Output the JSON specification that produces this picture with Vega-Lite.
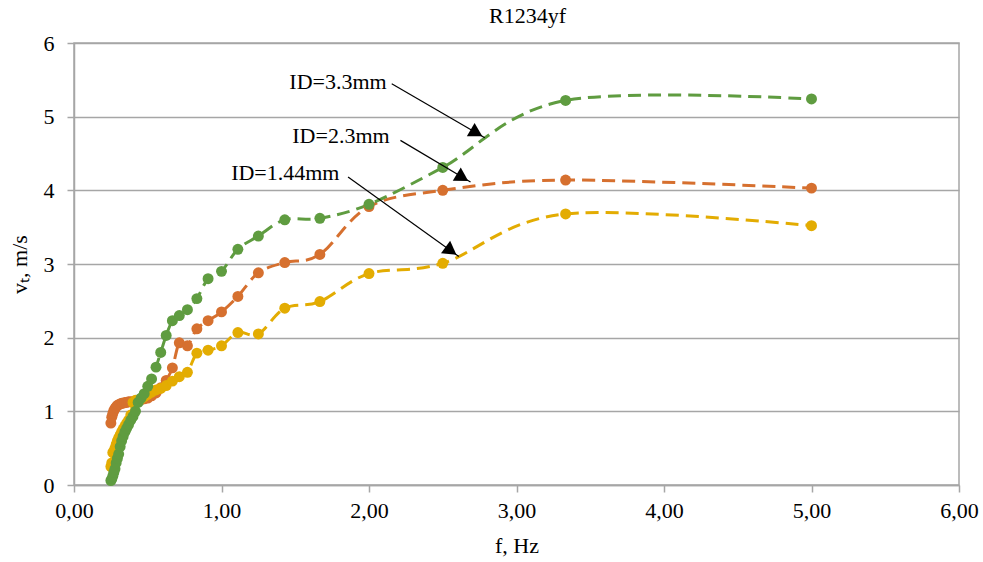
{
  "$schema": "https://vega.github.io/schema/vega-lite/v6.json",
  "width": 885,
  "height": 442,
  "autosize": {"type": "none"},
  "padding": {"left": 74, "top": 43, "right": 24, "bottom": 77},
  "background": "white",
  "title": {"text": "R1234yf", "font": "Liberation Serif", "fontSize": 22, "fontWeight": "normal", "color": "black", "offset": 4, "dx": 11},
  "config": {
    "font": "Liberation Serif",
    "view": {"stroke": "#a6a6a6", "strokeWidth": 1.5},
    "axis": {"labelFont": "Liberation Serif", "titleFont": "Liberation Serif", "labelColor": "black", "titleColor": "black", "titleFontWeight": "normal", "labelFontSize": 22, "titleFontSize": 22, "domainColor": "#a6a6a6", "tickColor": "#a6a6a6", "domainWidth": 1.5, "tickWidth": 1.5, "tickSize": 7}
  },
  "datasets": {
    "series": [
      {"s": "ID=2.3mm", "f": 0.25, "v": 0.84}, {"s": "ID=2.3mm", "f": 0.256, "v": 0.92}, {"s": "ID=2.3mm", "f": 0.263, "v": 0.97}, {"s": "ID=2.3mm", "f": 0.27, "v": 1.01}, {"s": "ID=2.3mm", "f": 0.278, "v": 1.04}, {"s": "ID=2.3mm", "f": 0.286, "v": 1.06}, {"s": "ID=2.3mm", "f": 0.294, "v": 1.08}, {"s": "ID=2.3mm", "f": 0.303, "v": 1.09}, {"s": "ID=2.3mm", "f": 0.313, "v": 1.1}, {"s": "ID=2.3mm", "f": 0.323, "v": 1.11}, {"s": "ID=2.3mm", "f": 0.333, "v": 1.11}, {"s": "ID=2.3mm", "f": 0.345, "v": 1.12}, {"s": "ID=2.3mm", "f": 0.357, "v": 1.12}, {"s": "ID=2.3mm", "f": 0.37, "v": 1.13}, {"s": "ID=2.3mm", "f": 0.385, "v": 1.13}, {"s": "ID=2.3mm", "f": 0.4, "v": 1.13}, {"s": "ID=2.3mm", "f": 0.417, "v": 1.14}, {"s": "ID=2.3mm", "f": 0.435, "v": 1.15}, {"s": "ID=2.3mm", "f": 0.455, "v": 1.16}, {"s": "ID=2.3mm", "f": 0.476, "v": 1.17}, {"s": "ID=2.3mm", "f": 0.5, "v": 1.18}, {"s": "ID=2.3mm", "f": 0.526, "v": 1.21}, {"s": "ID=2.3mm", "f": 0.556, "v": 1.25}, {"s": "ID=2.3mm", "f": 0.588, "v": 1.32}, {"s": "ID=2.3mm", "f": 0.625, "v": 1.42}, {"s": "ID=2.3mm", "f": 0.667, "v": 1.59}, {"s": "ID=2.3mm", "f": 0.714, "v": 1.93}, {"s": "ID=2.3mm", "f": 0.769, "v": 1.89}, {"s": "ID=2.3mm", "f": 0.833, "v": 2.12}, {"s": "ID=2.3mm", "f": 0.909, "v": 2.23}, {"s": "ID=2.3mm", "f": 1.0, "v": 2.35}, {"s": "ID=2.3mm", "f": 1.111, "v": 2.56}, {"s": "ID=2.3mm", "f": 1.25, "v": 2.88}, {"s": "ID=2.3mm", "f": 1.429, "v": 3.02}, {"s": "ID=2.3mm", "f": 1.667, "v": 3.13}, {"s": "ID=2.3mm", "f": 2.0, "v": 3.78}, {"s": "ID=2.3mm", "f": 2.5, "v": 4.0}, {"s": "ID=2.3mm", "f": 3.333, "v": 4.14}, {"s": "ID=2.3mm", "f": 5.0, "v": 4.03},
      {"s": "ID=1.44mm", "f": 0.25, "v": 0.25}, {"s": "ID=1.44mm", "f": 0.256, "v": 0.3}, {"s": "ID=1.44mm", "f": 0.263, "v": 0.44}, {"s": "ID=1.44mm", "f": 0.27, "v": 0.46}, {"s": "ID=1.44mm", "f": 0.278, "v": 0.5}, {"s": "ID=1.44mm", "f": 0.286, "v": 0.55}, {"s": "ID=1.44mm", "f": 0.294, "v": 0.6}, {"s": "ID=1.44mm", "f": 0.303, "v": 0.64}, {"s": "ID=1.44mm", "f": 0.313, "v": 0.68}, {"s": "ID=1.44mm", "f": 0.323, "v": 0.72}, {"s": "ID=1.44mm", "f": 0.333, "v": 0.76}, {"s": "ID=1.44mm", "f": 0.345, "v": 0.8}, {"s": "ID=1.44mm", "f": 0.357, "v": 0.84}, {"s": "ID=1.44mm", "f": 0.37, "v": 0.88}, {"s": "ID=1.44mm", "f": 0.385, "v": 0.95}, {"s": "ID=1.44mm", "f": 0.4, "v": 1.12}, {"s": "ID=1.44mm", "f": 0.417, "v": 1.15}, {"s": "ID=1.44mm", "f": 0.435, "v": 1.15}, {"s": "ID=1.44mm", "f": 0.455, "v": 1.17}, {"s": "ID=1.44mm", "f": 0.476, "v": 1.2}, {"s": "ID=1.44mm", "f": 0.5, "v": 1.23}, {"s": "ID=1.44mm", "f": 0.526, "v": 1.26}, {"s": "ID=1.44mm", "f": 0.556, "v": 1.29}, {"s": "ID=1.44mm", "f": 0.588, "v": 1.31}, {"s": "ID=1.44mm", "f": 0.625, "v": 1.35}, {"s": "ID=1.44mm", "f": 0.667, "v": 1.41}, {"s": "ID=1.44mm", "f": 0.714, "v": 1.47}, {"s": "ID=1.44mm", "f": 0.769, "v": 1.53}, {"s": "ID=1.44mm", "f": 0.833, "v": 1.79}, {"s": "ID=1.44mm", "f": 0.909, "v": 1.83}, {"s": "ID=1.44mm", "f": 1.0, "v": 1.89}, {"s": "ID=1.44mm", "f": 1.111, "v": 2.07}, {"s": "ID=1.44mm", "f": 1.25, "v": 2.05}, {"s": "ID=1.44mm", "f": 1.429, "v": 2.4}, {"s": "ID=1.44mm", "f": 1.667, "v": 2.49}, {"s": "ID=1.44mm", "f": 2.0, "v": 2.87}, {"s": "ID=1.44mm", "f": 2.5, "v": 3.01}, {"s": "ID=1.44mm", "f": 3.333, "v": 3.68}, {"s": "ID=1.44mm", "f": 5.0, "v": 3.52},
      {"s": "ID=3.3mm", "f": 0.25, "v": 0.06}, {"s": "ID=3.3mm", "f": 0.256, "v": 0.08}, {"s": "ID=3.3mm", "f": 0.263, "v": 0.12}, {"s": "ID=3.3mm", "f": 0.27, "v": 0.17}, {"s": "ID=3.3mm", "f": 0.278, "v": 0.22}, {"s": "ID=3.3mm", "f": 0.286, "v": 0.3}, {"s": "ID=3.3mm", "f": 0.294, "v": 0.36}, {"s": "ID=3.3mm", "f": 0.303, "v": 0.42}, {"s": "ID=3.3mm", "f": 0.313, "v": 0.52}, {"s": "ID=3.3mm", "f": 0.323, "v": 0.6}, {"s": "ID=3.3mm", "f": 0.333, "v": 0.66}, {"s": "ID=3.3mm", "f": 0.345, "v": 0.72}, {"s": "ID=3.3mm", "f": 0.357, "v": 0.77}, {"s": "ID=3.3mm", "f": 0.37, "v": 0.82}, {"s": "ID=3.3mm", "f": 0.385, "v": 0.88}, {"s": "ID=3.3mm", "f": 0.4, "v": 0.93}, {"s": "ID=3.3mm", "f": 0.417, "v": 1.0}, {"s": "ID=3.3mm", "f": 0.435, "v": 1.12}, {"s": "ID=3.3mm", "f": 0.455, "v": 1.18}, {"s": "ID=3.3mm", "f": 0.476, "v": 1.24}, {"s": "ID=3.3mm", "f": 0.5, "v": 1.34}, {"s": "ID=3.3mm", "f": 0.526, "v": 1.44}, {"s": "ID=3.3mm", "f": 0.556, "v": 1.6}, {"s": "ID=3.3mm", "f": 0.588, "v": 1.8}, {"s": "ID=3.3mm", "f": 0.625, "v": 2.03}, {"s": "ID=3.3mm", "f": 0.667, "v": 2.23}, {"s": "ID=3.3mm", "f": 0.714, "v": 2.3}, {"s": "ID=3.3mm", "f": 0.769, "v": 2.38}, {"s": "ID=3.3mm", "f": 0.833, "v": 2.53}, {"s": "ID=3.3mm", "f": 0.909, "v": 2.8}, {"s": "ID=3.3mm", "f": 1.0, "v": 2.9}, {"s": "ID=3.3mm", "f": 1.111, "v": 3.2}, {"s": "ID=3.3mm", "f": 1.25, "v": 3.38}, {"s": "ID=3.3mm", "f": 1.429, "v": 3.6}, {"s": "ID=3.3mm", "f": 1.667, "v": 3.62}, {"s": "ID=3.3mm", "f": 2.0, "v": 3.81}, {"s": "ID=3.3mm", "f": 2.5, "v": 4.31}, {"s": "ID=3.3mm", "f": 3.333, "v": 5.22}, {"s": "ID=3.3mm", "f": 5.0, "v": 5.24}
    ],
    "notes": [
      {"s": "ID=3.3mm", "tx": 2.12, "ty": 5.476, "x1": 2.154, "y1": 5.448, "x2": 2.785, "y2": 4.715, "hx": 2.729, "hy": 4.779},
      {"s": "ID=2.3mm", "tx": 2.14, "ty": 4.742, "x1": 2.213, "y1": 4.678, "x2": 2.688, "y2": 4.113, "hx": 2.634, "hy": 4.174},
      {"s": "ID=1.44mm", "tx": 1.8, "ty": 4.239, "x1": 1.858, "y1": 4.181, "x2": 2.609, "y2": 3.102, "hx": 2.556, "hy": 3.178}
    ]
  },
  "layer": [
    {
      "data": {"name": "series"},
      "mark": {"type": "line", "interpolate": "cardinal", "strokeWidth": 3, "strokeDash": [13, 7]},
      "encoding": {
        "x": {"field": "f", "type": "quantitative", "scale": {"domain": [0, 6], "nice": false}, "axis": {"title": "f, Hz", "grid": false, "tickCount": 6, "labelFlush": false, "labelExpr": "replace(format(datum.value, '.2f'), '.', ',')", "labelPadding": 8, "titlePadding": 14}},
        "y": {"field": "v", "type": "quantitative", "scale": {"domain": [0, 6], "nice": false}, "axis": {"title": "vₜ, m/s", "grid": true, "gridColor": "#a6a6a6", "gridWidth": 1.5, "tickCount": 6, "format": "d", "labelFlush": false, "labelPadding": 13, "titlePadding": 12}},
        "color": {"field": "s", "type": "nominal", "scale": {"domain": ["ID=2.3mm", "ID=1.44mm", "ID=3.3mm"], "range": ["#D6702F", "#E3AC02", "#5F9C40"]}, "legend": null}
      }
    },
    {
      "data": {"name": "series"},
      "mark": {"type": "point", "filled": true, "opacity": 1, "size": 120, "shape": "circle"},
      "encoding": {
        "x": {"field": "f", "type": "quantitative"},
        "y": {"field": "v", "type": "quantitative"},
        "color": {"field": "s", "type": "nominal", "legend": null}
      }
    },
    {
      "data": {"name": "notes"},
      "mark": {"type": "rule", "color": "black", "strokeWidth": 1.2},
      "encoding": {
        "x": {"field": "x1", "type": "quantitative"},
        "y": {"field": "y1", "type": "quantitative"},
        "x2": {"field": "x2"},
        "y2": {"field": "y2"}
      }
    },
    {
      "data": {"name": "notes"},
      "transform": [{"filter": "datum.s === 'ID=3.3mm'"}],
      "mark": {"type": "point", "shape": "triangle-up", "filled": true, "color": "black", "opacity": 1, "size": 240, "angle": 120},
      "encoding": {"x": {"field": "hx", "type": "quantitative"}, "y": {"field": "hy", "type": "quantitative"}}
    },
    {
      "data": {"name": "notes"},
      "transform": [{"filter": "datum.s === 'ID=2.3mm'"}],
      "mark": {"type": "point", "shape": "triangle-up", "filled": true, "color": "black", "opacity": 1, "size": 240, "angle": 121},
      "encoding": {"x": {"field": "hx", "type": "quantitative"}, "y": {"field": "hy", "type": "quantitative"}}
    },
    {
      "data": {"name": "notes"},
      "transform": [{"filter": "datum.s === 'ID=1.44mm'"}],
      "mark": {"type": "point", "shape": "triangle-up", "filled": true, "color": "black", "opacity": 1, "size": 240, "angle": 126},
      "encoding": {"x": {"field": "hx", "type": "quantitative"}, "y": {"field": "hy", "type": "quantitative"}}
    },
    {
      "data": {"name": "notes"},
      "mark": {"type": "text", "align": "right", "baseline": "middle", "font": "Liberation Serif", "fontSize": 22, "color": "black"},
      "encoding": {"x": {"field": "tx", "type": "quantitative"}, "y": {"field": "ty", "type": "quantitative"}, "text": {"field": "s"}}
    }
  ]
}
